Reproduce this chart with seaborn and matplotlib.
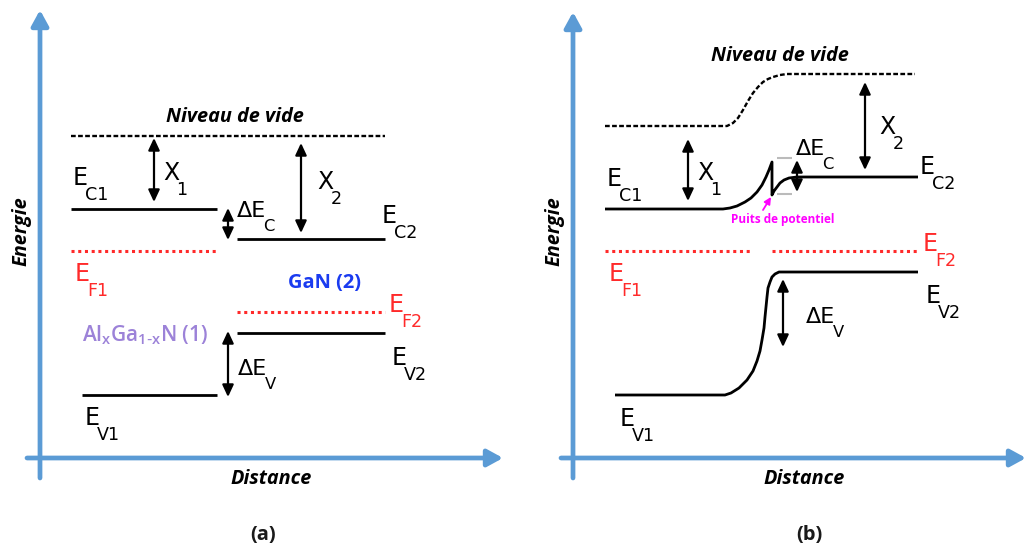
import matplotlib
matplotlib.use('Agg')
import matplotlib.pyplot as plt
import seaborn as sns

# energies / distances in arbitrary units (1 unit ~ 1 px), origin at the axes crossing

# panel (a): flat bands, no interface bending
a_names = ['vide', 'EC1', 'EC2', 'EF1', 'EF2', 'EV1', 'EV2']
a_x_start = [31, 31, 197, 31, 197, 42, 197]
a_x_end = [345, 177, 345, 177, 345, 177, 345]
a_energy = [322, 249, 219, 207, 146, 63, 125]

# arrows of panel (a): X1, X2, dEc, dEv
a_arrow_x = [114, 261, 188, 188]
a_arrow_top = [320, 315, 250, 127]
a_arrow_bottom = [256, 225, 218, 61]

# panel (b): bands at equilibrium
b_vide_x = [32, 154, 160, 165, 170, 175, 180, 185, 190, 195, 200, 207, 214, 342]
b_vide_e = [332, 332, 335, 340, 348, 357, 365, 371, 376, 379, 381, 383, 384, 384]
b_ec_x = [32, 150, 157, 164, 172, 178, 184, 189, 193, 196, 199, 199, 201, 204, 207, 211, 216, 224, 345]
b_ec_e = [249, 249, 250, 252, 256, 260, 266, 273, 281, 288, 296, 263, 267, 271, 275, 278, 280, 281, 281]
b_ev_x = [42, 152, 158, 166, 174, 180, 184, 187, 189, 191, 192, 194, 195, 197, 199, 202, 206, 345]
b_ev_e = [63, 63, 65, 70, 78, 87, 97, 107, 118, 130, 141, 161, 170, 176, 181, 184, 186, 186]
b_ef1_x = [32, 179]
b_ef2_x = [199, 345]
b_ef_e = 207
b_well_x = [204, 219]
b_well_e = [300, 264]

# arrows of panel (b): X1, X2, dEc, dEv
b_arrow_x = [115, 292, 224, 210]
b_arrow_top = [319, 376, 298, 179]
b_arrow_bottom = [257, 288, 266, 111]

AXIS_BLUE = '#5B9BD5'
RED = '#FF2A2A'

sns.set_theme(style='white')
plt.rcParams['font.family'] = ['DejaVu Sans']
plt.rcParams['mathtext.default'] = 'regular'
plt.rcParams['text.color'] = 'black'

VIDE_LS = (0, (2, 1))
EF_LS = (0, (1, 1.2))
TITLE_FONT = dict(family=['Open Sans', 'DejaVu Sans'], fontweight='bold', fontstyle='italic',
                  fontsize=14.3, color='black')


def band(ax, x, e, color='black', ls='-', lw=2.0):
    sns.lineplot(x=x, y=e, ax=ax, color=color, linestyle=ls, linewidth=lw,
                 estimator=None, sort=False, legend=False,
                 solid_joinstyle='round', solid_capstyle='butt')


def double_arrow(ax, x, top, bottom):
    ax.annotate('', xy=(x, top), xytext=(x, bottom),
                arrowprops=dict(arrowstyle='<|-|>,head_length=0.6,head_width=0.28',
                                color='black', lw=1.6, mutation_scale=12,
                                shrinkA=0, shrinkB=0))


def band_label(ax, x, e, main, sub, color='black', size=17):
    t = ax.text(x, e, main, fontsize=size, color=color, ha='left', va='baseline')
    ax.annotate(sub, xy=(1, 0), xycoords=t, xytext=(-2, -7),
                textcoords='offset points', fontsize=size * 0.74, color=color,
                ha='left', va='baseline')


def frame(ax, x_left, x_right, e_low, e_top, panel, panel_x):
    style = dict(arrowstyle='-|>,head_length=0.62,head_width=0.34', color=AXIS_BLUE,
                 lw=3.4, mutation_scale=15, shrinkA=0, shrinkB=0)
    ax.annotate('', xy=(0, e_top), xytext=(0, e_low), arrowprops=style)
    ax.annotate('', xy=(x_right, 0), xytext=(x_left, 0), arrowprops=style)
    ax.text(-19, 227, 'Energie', rotation=90, ha='center', va='center', **TITLE_FONT)
    ax.text(231, -21, 'Distance', ha='center', va='center', **TITLE_FONT)
    ax.text(panel_x, -77, panel, ha='center', va='center', fontsize=14.5,
            fontweight='bold', family=['Open Sans', 'DejaVu Sans'], color='#1A1A1A')


fig = plt.figure(figsize=(10.28, 5.49), dpi=100)
ax_a = fig.add_axes([0, 0, 0.5, 1])
ax_b = fig.add_axes([0.5, 0, 0.5, 1])

# ---- panel (a)
styles = {'vide': ('black', VIDE_LS, 1.7), 'EF1': (RED, EF_LS, 2.2), 'EF2': (RED, EF_LS, 2.2)}
for name, x0, x1, e in zip(a_names, a_x_start, a_x_end, a_energy):
    color, ls, lw = styles.get(name, ('black', '-', 2.0))
    band(ax_a, [x0, x1], [e, e], color, ls, lw)

for x, top, bottom in zip(a_arrow_x, a_arrow_top, a_arrow_bottom):
    double_arrow(ax_a, x, top, bottom)

band_label(ax_a, 33, 273, 'E', 'C1')
band_label(ax_a, 123, 278, 'X', '1')
band_label(ax_a, 197, 241, 'ΔE', 'C', size=16)
band_label(ax_a, 277, 269, 'X', '2')
band_label(ax_a, 342, 235, 'E', 'C2')
band_label(ax_a, 35, 177, 'E', 'F1', color=RED)
band_label(ax_a, 349, 146, 'E', 'F2', color=RED)
band_label(ax_a, 352, 93, 'E', 'V2')
band_label(ax_a, 198, 83, 'ΔE', 'V', size=16)
band_label(ax_a, 45, 33, 'E', 'V1')

ax_a.text(195, 341, 'Niveau de vide', ha='center', va='center', **TITLE_FONT)
ax_a.text(284, 175, 'GaN (2)', ha='center', va='center', fontsize=14.5,
          fontweight='bold', family=['Open Sans', 'DejaVu Sans'], color='#1A3BF0')
ax_a.text(42, 123, r'Al$_x$Ga$_{1\text{-}x}$N (1)', ha='left', va='center', fontsize=15,
          fontweight='semibold', family=['Open Sans', 'DejaVu Sans'], color='#9C82D8')

frame(ax_a, -13, 463, -20, 448, '(a)', 223)
ax_a.set_xlim(-40, 474)
ax_a.set_ylim(-91, 458)
ax_a.set_axis_off()

# ---- panel (b)
band(ax_b, b_vide_x, b_vide_e, 'black', VIDE_LS, 1.7)
band(ax_b, b_ec_x, b_ec_e)
band(ax_b, b_ev_x, b_ev_e)
band(ax_b, b_ef1_x, [b_ef_e, b_ef_e], RED, EF_LS, 2.2)
band(ax_b, b_ef2_x, [b_ef_e, b_ef_e], RED, EF_LS, 2.2)
for e in b_well_e:
    band(ax_b, b_well_x, [e, e], '#BBBBBB', '-', 1.5)

for x, top, bottom in zip(b_arrow_x, b_arrow_top, b_arrow_bottom):
    double_arrow(ax_b, x, top, bottom)

band_label(ax_b, 34, 272, 'E', 'C1')
band_label(ax_b, 124, 278, 'X', '1')
band_label(ax_b, 306, 324, 'X', '2')
band_label(ax_b, 223, 303, 'ΔE', 'C', size=16)
band_label(ax_b, 347, 284, 'E', 'C2')
band_label(ax_b, 36, 177, 'E', 'F1', color=RED)
band_label(ax_b, 350, 207, 'E', 'F2', color=RED)
band_label(ax_b, 353, 155, 'E', 'V2')
band_label(ax_b, 233, 135, 'ΔE', 'V', size=16)
band_label(ax_b, 47, 32, 'E', 'V1')

ax_b.text(207, 402, 'Niveau de vide', ha='center', va='center', **TITLE_FONT)
ax_b.text(210, 239, 'Puits de potentiel', ha='center', va='center', fontsize=8.5,
          fontweight='bold', family=['Open Sans', 'DejaVu Sans'], color='#FF00FF')
ax_b.annotate('', xy=(198, 261), xytext=(190, 248),
              arrowprops=dict(arrowstyle='-|>,head_length=0.5,head_width=0.25',
                              color='#FF00FF', lw=1.3, mutation_scale=8,
                              shrinkA=0, shrinkB=0))

frame(ax_b, -12, 453, -20, 446, '(b)', 236)
ax_b.set_xlim(-59, 455)
ax_b.set_ylim(-91, 458)
ax_b.set_axis_off()

fig.savefig('out.png', dpi=100)
